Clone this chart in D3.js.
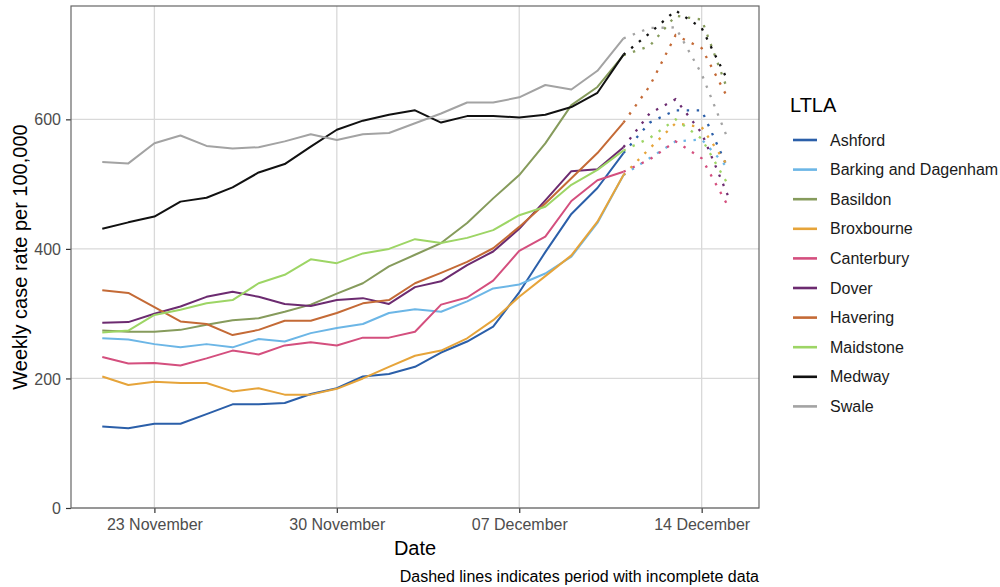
<!DOCTYPE html>
<html>
<head>
<meta charset="utf-8">
<script src="https://cdn.jsdelivr.net/npm/d3@7"></script>
<style>
  body { margin: 0; background: #fff; }
  svg { display: block; font-family: "Liberation Sans", Arial, sans-serif; }
  .tick text { fill: #4d4d4d; font-size: 16px; }
</style>
</head>
<body>
<div id="chart"></div>
<script>
// Weekly case rate per 100,000 by LTLA, Nov–Dec 2020.
// Values; the last four days are incomplete.

const dates = [
  '2020-11-21', '2020-11-22', '2020-11-23', '2020-11-24', '2020-11-25',
  '2020-11-26', '2020-11-27', '2020-11-28', '2020-11-29', '2020-11-30',
  '2020-12-01', '2020-12-02', '2020-12-03', '2020-12-04', '2020-12-05',
  '2020-12-06', '2020-12-07', '2020-12-08', '2020-12-09', '2020-12-10',
  '2020-12-11', '2020-12-12', '2020-12-13', '2020-12-14', '2020-12-15'
];
const lastCompleteDate = '2020-12-11';

const ashford    = [126, 123, 130, 130, 145, 160, 160, 162, 176, 185, 203, 207, 218, 240, 257, 280, 333, 395, 454, 494, 548, 595, 614, 614, 525];
const barking    = [262, 260, 253, 248, 253, 248, 261, 257, 270, 278, 284, 301, 307, 303, 319, 339, 345, 362, 388, 440, 514, 540, 566, 569, 525];
const basildon   = [274, 272, 272, 275, 283, 290, 293, 303, 314, 331, 347, 373, 391, 409, 440, 478, 514, 563, 622, 650, 699, 713, 760, 754, 645];
const broxbourne = [203, 190, 195, 193, 193, 180, 185, 175, 175, 184, 200, 218, 235, 243, 262, 290, 326, 358, 390, 442, 514, 555, 594, 588, 528];
const canterbury = [233, 223, 224, 220, 231, 243, 237, 251, 256, 251, 263, 263, 272, 314, 325, 351, 397, 419, 474, 506, 519, 538, 566, 540, 467];
const dover      = [286, 287, 300, 311, 326, 334, 326, 315, 312, 321, 324, 315, 341, 350, 375, 396, 431, 475, 520, 523, 557, 609, 631, 579, 483];
const havering   = [336, 332, 310, 288, 284, 267, 275, 289, 289, 301, 316, 321, 347, 363, 380, 401, 434, 470, 509, 548, 595, 651, 730, 710, 633];
const maidstone  = [271, 274, 298, 306, 316, 321, 347, 360, 384, 378, 393, 400, 415, 409, 417, 429, 452, 465, 499, 522, 552, 571, 600, 570, 500];
const medway     = [431, 441, 450, 473, 479, 495, 518, 531, 558, 584, 598, 607, 614, 595, 605, 605, 603, 607, 619, 641, 700, 733, 768, 741, 660];
const swale      = [534, 532, 563, 575, 559, 555, 557, 566, 577, 568, 577, 579, 594, 609, 626, 626, 634, 653, 646, 675, 725, 741, 742, 670, 570];

const ltlaNames = ['Ashford', 'Barking and Dagenham', 'Basildon', 'Broxbourne', 'Canterbury',
                   'Dover', 'Havering', 'Maidstone', 'Medway', 'Swale'];
const ltlaValues = [ashford, barking, basildon, broxbourne, canterbury,
                    dover, havering, maidstone, medway, swale];
const ltlaColors = ['#2b5fa9', '#6cb6e6', '#869b5c', '#e6a43a', '#d44f7e',
                    '#6c2b70', '#c46a36', '#9dd565', '#111111', '#a3a3a3'];

const yTicks = [0, 200, 400, 600];
const xTicks = ['2020-11-23', '2020-11-30', '2020-12-07', '2020-12-14'];

const width = 1000, height = 587;
const margin = { top: 6, right: 241, bottom: 79, left: 71 };
const innerW = width - margin.left - margin.right;
const innerH = height - margin.top - margin.bottom;

const parse = d3.utcParse('%Y-%m-%d');
const days = dates.map(parse);
const cut = days.findIndex(d => +d === +parse(lastCompleteDate));

// ggplot-style 5% expansion on the date axis
const span = days[days.length - 1] - days[0];
const xScale = d3.scaleUtc()
  .domain([new Date(+days[0] - span * 0.05), new Date(+days[days.length - 1] + span * 0.05)])
  .range([0, innerW]);
const yScale = d3.scaleLinear().domain([0, 775]).range([innerH, 0]);

const svg = d3.select('#chart').append('svg')
  .attr('width', width).attr('height', height);
const g = svg.append('g').attr('transform', `translate(${margin.left},${margin.top})`);

// grid
g.append('g').attr('class', 'grid')
  .selectAll('line.h').data(yTicks).join('line')
    .attr('x1', 0).attr('x2', innerW)
    .attr('y1', d => yScale(d)).attr('y2', d => yScale(d));
g.select('.grid').selectAll('line.v').data(xTicks.map(parse)).join('line')
    .attr('class', 'v')
    .attr('x1', d => xScale(d)).attr('x2', d => xScale(d))
    .attr('y1', 0).attr('y2', innerH);
g.selectAll('.grid line').attr('stroke', '#d9d9d9').attr('stroke-width', 1.3);

// axes
const xAxisG = g.append('g').attr('transform', `translate(0,${innerH})`)
  .call(d3.axisBottom(xScale).tickValues(xTicks.map(parse))
    .tickFormat(d3.utcFormat('%d %B')).tickSize(5).tickPadding(6));
const yAxisG = g.append('g')
  .call(d3.axisLeft(yScale).tickValues(yTicks).tickSize(5).tickPadding(5));
[xAxisG, yAxisG].forEach(a => {
  a.select('.domain').remove();
  a.selectAll('.tick line').attr('stroke', '#333').attr('stroke-width', 1.2);
});
yAxisG.selectAll('.tick text').attr('dy', '0.35em');

// series
const line = d3.line()
  .x(d => xScale(d.date))
  .y(d => yScale(d.value));

const series = ltlaNames.map((name, k) => ({
  name,
  color: ltlaColors[k],
  points: days.map((date, i) => ({ date, value: ltlaValues[k][i] }))
}));

const linesG = g.append('g');
series.forEach(s => {
  linesG.append('path')
    .attr('d', line(s.points.slice(cut)))
    .attr('fill', 'none')
    .attr('stroke', s.color)
    .attr('stroke-width', 2.3)
    .attr('stroke-dasharray', '2.4 7.6');
});
series.forEach(s => {
  linesG.append('path')
    .attr('d', line(s.points.slice(0, cut + 1)))
    .attr('fill', 'none')
    .attr('stroke', s.color)
    .attr('stroke-width', 2)
    .attr('stroke-linejoin', 'round');
});

// panel border
g.append('rect')
  .attr('x', 0).attr('y', 0).attr('width', innerW).attr('height', innerH)
  .attr('fill', 'none').attr('stroke', '#666').attr('stroke-width', 1.2);

// axis titles
svg.append('text')
  .attr('x', margin.left + innerW / 2).attr('y', 555)
  .attr('text-anchor', 'middle').attr('font-size', 20).attr('fill', '#000')
  .text('Date');
svg.append('text')
  .attr('transform', `translate(27,${margin.top + innerH / 2}) rotate(-90)`)
  .attr('text-anchor', 'middle').attr('font-size', 20).attr('fill', '#000')
  .text('Weekly case rate per 100,000');

// caption
svg.append('text')
  .attr('x', margin.left + innerW).attr('y', 582)
  .attr('text-anchor', 'end').attr('font-size', 16).attr('fill', '#000')
  .text('Dashed lines indicates period with incomplete data');

// legend
const legend = svg.append('g').attr('transform', 'translate(790,0)');
legend.append('text')
  .attr('x', 0).attr('y', 112).attr('font-size', 20).attr('fill', '#000')
  .text('LTLA');
const item = legend.selectAll('g.item').data(series).join('g')
  .attr('class', 'item')
  .attr('transform', (d, i) => `translate(0,${140 + i * 29.6})`);
item.append('line')
  .attr('x1', 3).attr('x2', 27).attr('y1', 0).attr('y2', 0)
  .attr('stroke', d => d.color).attr('stroke-width', 2.6);
item.append('text')
  .attr('x', 40).attr('y', 0).attr('dy', '0.35em')
  .attr('font-size', 16).attr('fill', '#1a1a1a')
  .text(d => d.name);
</script>
</body>
</html>
